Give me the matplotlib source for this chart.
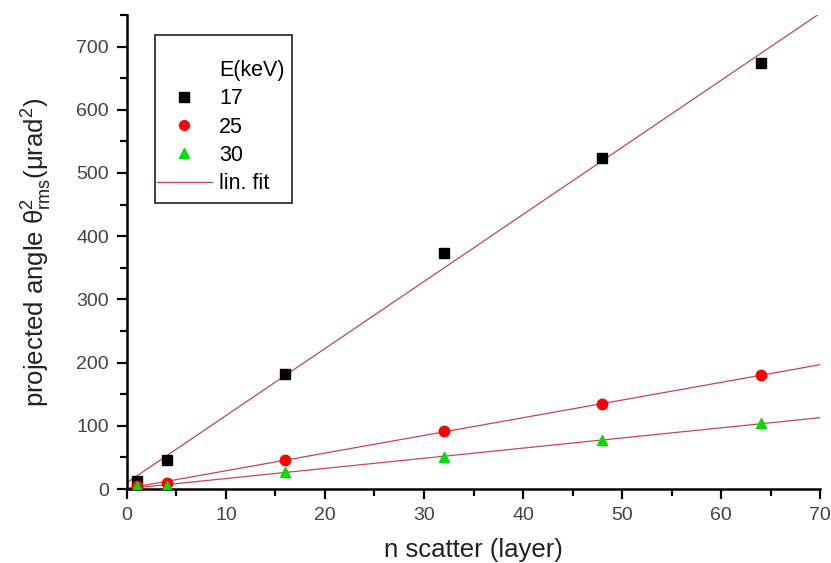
import matplotlib
matplotlib.use('Agg')
import matplotlib.pyplot as plt
import numpy as np
from matplotlib.lines import Line2D
from matplotlib.patches import Rectangle
from matplotlib.ticker import MultipleLocator

plt.rcParams.update({
    'font.family': ['Liberation Sans', 'DejaVu Sans'],
    'mathtext.fontset': 'custom',
    'mathtext.rm': 'Liberation Sans',
    'mathtext.it': 'Liberation Sans:italic',
})

# data
n_layers = [1, 4, 16, 32, 48, 64]
theta_17 = [12, 46, 182, 374, 523, 674]
theta_25 = [5, 10, 46, 92, 134, 180]
theta_30 = [4, 5, 27, 51, 77, 104]
energies = ['17', '25', '30']

fig = plt.figure(figsize=(8.31, 5.63), dpi=100)
ax = fig.add_axes([0.1528, 0.1314, 0.834, 0.842])

fit_color = '#c0485a'
styles = [
    (theta_17, 's', 'black'),
    (theta_25, 'o', '#ff0000'),
    (theta_30, '^', '#00dd00'),
]
x = np.array(n_layers)
xfit = np.linspace(0, 70, 50)
for ys, marker, color in styles:
    k, b = np.polyfit(x, ys, 1)
    ax.plot(xfit, k * xfit + b, color=fit_color, lw=0.9, zorder=2)
for ys, marker, color in styles:
    ax.plot(x, ys, ls='none', marker=marker, color=color, ms=7.5, zorder=3)

ax.set_xlim(0, 70)
ax.set_ylim(0, 750)
ax.xaxis.set_major_locator(MultipleLocator(10))
ax.xaxis.set_minor_locator(MultipleLocator(5))
ax.yaxis.set_major_locator(MultipleLocator(100))
ax.yaxis.set_minor_locator(MultipleLocator(50))
for side in ['top', 'right']:
    ax.spines[side].set_visible(False)
for side in ['left', 'bottom']:
    ax.spines[side].set_linewidth(1.8)
ax.tick_params(which='major', direction='out', length=7, width=1.6, pad=6,
               labelsize=14, labelcolor='#444444')
ax.tick_params(which='minor', direction='out', length=5, width=1.6)

ax.set_xlabel('n scatter (layer)', fontsize=18.5, color='#222222', labelpad=10)
ax.set_ylabel(r'projected angle θ$^2_{\mathrm{rms}}$(μrad$^2$)',
              fontsize=18.5, color='#222222', labelpad=16)

handles = [Line2D([], [], ls='none')]
labels = ['E(keV)']
for (ys, marker, color), e in zip(styles, energies):
    handles.append(Line2D([], [], ls='none', marker=marker, color=color, ms=7))
    labels.append(e)
handles.append(Line2D([], [], color=fit_color, lw=1))
labels.append('lin. fit')

ax.legend(handles, labels, loc='upper left', bbox_to_anchor=(0.043, 0.905),
          fontsize=15.5, frameon=False, handlelength=2.55, handletextpad=0.35,
          labelspacing=0.34, borderpad=0, borderaxespad=0)
ax.add_patch(Rectangle((0.040, 0.603), 0.198, 0.355, transform=ax.transAxes,
                       fill=False, edgecolor='#333333', lw=1.3, zorder=4))

fig.savefig('out.png', dpi=100)
